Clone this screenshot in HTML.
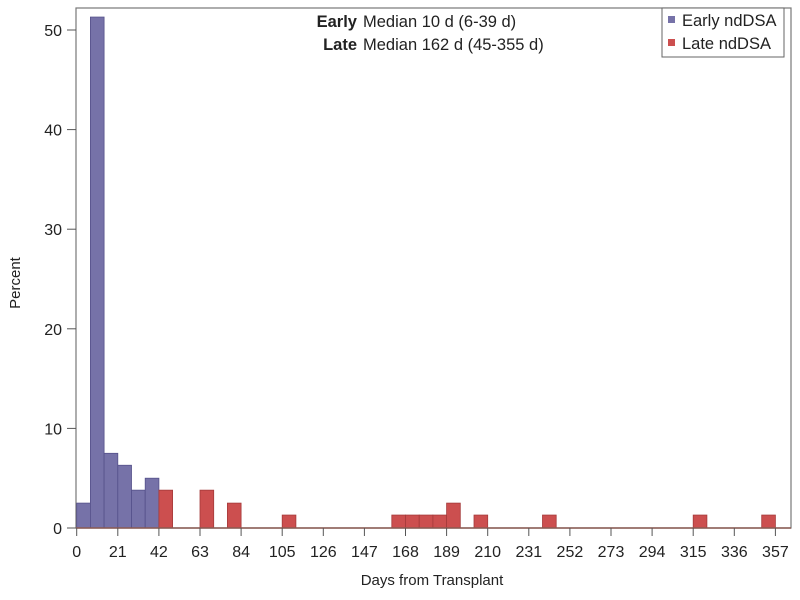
<!DOCTYPE html>
<html><head><meta charset="utf-8"><style>
html,body{margin:0;padding:0;background:#fff;}
svg{display:block;font-family:"Liberation Sans",sans-serif;}
</style></head><body>
<svg id="chart" width="800" height="600">
<rect x="76" y="8" width="715" height="520" fill="#fff" stroke="#777" stroke-width="1.2"/>
<g id="bars"></g>
<g id="axes"></g>
<text x="357" y="27" text-anchor="end" font-size="16.5" font-weight="bold" fill="#222">Early</text>
<text x="363" y="27" font-size="16.5" fill="#222">Median 10 d (6-39 d)</text>
<text x="357" y="50" text-anchor="end" font-size="16.5" font-weight="bold" fill="#222">Late</text>
<text x="363" y="50" font-size="16.5" fill="#222">Median 162 d (45-355 d)</text>
<g>
<rect x="662" y="8" width="122" height="49" fill="#fff" stroke="#666"/>
<rect x="668" y="16" width="7" height="7" fill="#7672a8"/>
<text x="682" y="26" font-size="16.5" fill="#222">Early ndDSA</text>
<rect x="668" y="39" width="7" height="7" fill="#cc4f4f"/>
<text x="682" y="49" font-size="16.5" fill="#222">Late ndDSA</text>
</g>
<text x="432" y="585" text-anchor="middle" font-size="15" fill="#222">Days from Transplant</text>
<text transform="translate(20,283) rotate(-90)" text-anchor="middle" font-size="15" fill="#222">Percent</text>
</svg>
<script>
const earlyStarts = [0, 7, 14, 21, 28, 35];
const earlyValues = [2.5, 51.3, 7.5, 6.3, 3.8, 5.0];
const lateStarts = [42, 63, 77, 105, 161, 168, 175, 182, 189, 203, 238, 315, 350];
const lateValues = [3.8, 3.8, 2.5, 1.3, 1.3, 1.3, 1.3, 1.3, 2.5, 1.3, 1.3, 1.3, 1.3];
const binWidth = 7;
const xTicks = [0,21,42,63,84,105,126,147,168,189,210,231,252,273,294,315,336,357];
const yTicks = [0,10,20,30,40,50];
const NS = 'http://www.w3.org/2000/svg';
const x = d => 76.7 + d * (41.1/21);
const y = v => 528 - v * 9.96;
const bars = document.getElementById('bars');
function drawBars(starts, vals, fill, stroke, name){
  starts.forEach((s,i)=>{
    const r = document.createElementNS(NS,'rect');
    r.setAttribute('x', x(s)); r.setAttribute('width', x(s+binWidth)-x(s));
    r.setAttribute('y', y(vals[i])); r.setAttribute('height', y(0)-y(vals[i]));
    r.setAttribute('fill', fill); r.setAttribute('stroke', stroke); r.setAttribute('stroke-width','0.8');
    
    
    bars.appendChild(r);
  });
}
drawBars(earlyStarts, earlyValues, '#7672a8', '#55518a', 'early');
drawBars(lateStarts, lateValues, '#cc4f4f', '#a53a3a', 'late');
const axes = document.getElementById('axes');
const base = document.createElementNS(NS,'line');
base.setAttribute('x1',76); base.setAttribute('x2',791); base.setAttribute('y1',528); base.setAttribute('y2',528);
base.setAttribute('stroke','#8a5a52'); base.setAttribute('stroke-width','1.4');


axes.appendChild(base);
xTicks.forEach(t=>{
  const l = document.createElementNS(NS,'line');
  l.setAttribute('x1',x(t)); l.setAttribute('x2',x(t)); l.setAttribute('y1',528); l.setAttribute('y2',536);
  l.setAttribute('stroke','#555');
  
  
  axes.appendChild(l);
  const tx = document.createElementNS(NS,'text');
  tx.setAttribute('x',x(t)); tx.setAttribute('y',557); tx.setAttribute('text-anchor','middle');
  tx.setAttribute('font-size','16'); tx.setAttribute('fill','#222');
  
  
  tx.textContent = t; axes.appendChild(tx);
});
yTicks.forEach(t=>{
  const l = document.createElementNS(NS,'line');
  l.setAttribute('x1',67); l.setAttribute('x2',76); l.setAttribute('y1',y(t)); l.setAttribute('y2',y(t));
  l.setAttribute('stroke','#555');
  
  
  axes.appendChild(l);
  const tx = document.createElementNS(NS,'text');
  tx.setAttribute('x',62); tx.setAttribute('y',y(t)+6); tx.setAttribute('text-anchor','end');
  tx.setAttribute('font-size','16'); tx.setAttribute('fill','#222');
  
  
  tx.textContent = t; axes.appendChild(tx);
});
</script>
</body></html>
